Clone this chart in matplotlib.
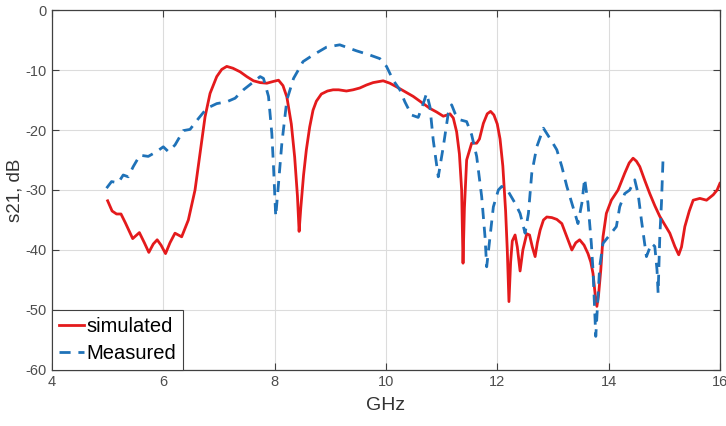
import matplotlib

matplotlib.use("Agg")

import matplotlib.pyplot as plt

plt.rcParams["font.family"] = ["Liberation Sans", "DejaVu Sans"]
plt.rcParams["axes.unicode_minus"] = False

# simulated S21 trace (GHz, dB)
sim_ghz = [
    5.00, 5.08, 5.16, 5.24, 5.32, 5.45, 5.57, 5.66, 5.74, 5.82, 5.89, 5.96,
    6.04, 6.12, 6.21, 6.33, 6.45, 6.57, 6.66, 6.75, 6.84, 6.96, 7.05, 7.14,
    7.25, 7.38, 7.50, 7.62, 7.74, 7.86, 7.98, 8.07, 8.15, 8.22, 8.30, 8.36,
    8.41, 8.44, 8.47, 8.52, 8.57, 8.63, 8.69, 8.75, 8.84, 8.95, 9.05, 9.15,
    9.29, 9.41, 9.53, 9.65, 9.77, 9.95, 10.07, 10.19, 10.34, 10.49, 10.64,
    10.79, 10.91, 11.03, 11.10, 11.15, 11.21, 11.27, 11.32, 11.36, 11.385,
    11.41, 11.45, 11.54, 11.63, 11.68, 11.75, 11.82, 11.88, 11.94, 12.00,
    12.05, 12.10, 12.15, 12.18, 12.21, 12.24, 12.27, 12.32, 12.36, 12.41,
    12.46, 12.53, 12.58, 12.63, 12.68, 12.72, 12.77, 12.83, 12.89, 12.98,
    13.07, 13.16, 13.25, 13.34, 13.41, 13.48, 13.56, 13.63, 13.68, 13.72,
    13.76, 13.79, 13.82, 13.86, 13.90, 13.96, 14.05, 14.17, 14.29, 14.37,
    14.44, 14.50, 14.56, 14.65, 14.74, 14.83, 14.92, 15.01, 15.10, 15.19,
    15.26, 15.31, 15.37, 15.45, 15.52, 15.64, 15.76, 15.88, 15.95, 16.00,
]
sim_db = [
    -31.8, -33.5, -34.0, -34.0, -35.5, -38.1, -37.1, -38.8, -40.4, -39.0, -38.3, -39.2,
    -40.6, -38.8, -37.2, -37.8, -35.0, -30.0, -23.9, -17.8, -13.9, -11.1, -9.9, -9.4,
    -9.7, -10.3, -11.1, -11.8, -12.1, -12.2, -11.9, -11.7, -12.6, -14.5, -19.0, -24.5,
    -31.0, -36.9, -33.0, -27.5, -23.3, -19.5, -16.7, -15.2, -14.0, -13.5, -13.3, -13.3,
    -13.5, -13.3, -13.0, -12.5, -12.1, -11.8, -12.2, -12.8, -13.6, -14.4, -15.4,
    -16.4, -17.0, -17.7, -17.5, -17.3, -18.0, -20.3, -24.0, -30.0, -42.2,
    -33.0, -25.0, -22.2, -22.2, -21.5, -18.9, -17.3, -16.9, -17.5, -19.0,
    -21.5, -26.0, -33.5, -40.0, -48.6, -42.0, -38.5, -37.5, -39.5, -43.5,
    -40.0, -37.3, -37.5, -39.5, -41.1, -38.8, -36.7, -35.0, -34.5, -34.6,
    -34.9, -35.6, -37.8, -40.0, -38.8, -38.3, -39.2, -40.6, -42.0, -43.9,
    -47.5, -49.4, -47.5, -43.3, -37.8, -33.9, -31.7, -30.0, -27.2, -25.5,
    -24.7, -25.2, -26.1, -28.4, -30.6, -32.6, -34.4, -35.8, -37.2, -39.4,
    -40.8, -39.5, -36.1, -33.5, -31.7, -31.4, -31.7, -30.8, -30.0, -28.9,
]

# measured S21 trace (GHz, dB)
meas_ghz = [
    4.98, 5.07, 5.19, 5.28, 5.37, 5.46, 5.58, 5.73, 5.88, 6.00, 6.09, 6.21,
    6.36, 6.48, 6.63, 6.78, 6.96, 7.14, 7.29, 7.44, 7.59, 7.74, 7.80, 7.89,
    7.95, 7.98, 8.02, 8.07, 8.13, 8.22, 8.34, 8.45, 8.51, 8.69, 8.93, 9.17,
    9.32, 9.47, 9.71, 9.89, 10.01, 10.13, 10.25, 10.34, 10.46, 10.58, 10.67,
    10.73, 10.79, 10.85, 10.94, 11.03, 11.12, 11.18, 11.24, 11.33, 11.45,
    11.54, 11.63, 11.72, 11.78, 11.81, 11.87, 11.93, 12.02, 12.08, 12.20,
    12.32, 12.41, 12.50, 12.56, 12.62, 12.71, 12.83, 12.98, 13.07, 13.16,
    13.25, 13.34, 13.45, 13.52, 13.57, 13.63, 13.69, 13.72, 13.75, 13.77,
    13.81, 13.84, 13.90, 14.02, 14.14, 14.20, 14.29, 14.38, 14.47, 14.53,
    14.59, 14.68, 14.77, 14.83, 14.87, 14.89, 14.92, 14.95, 14.98,
]
meas_db = [
    -29.7, -28.6, -28.8, -27.5, -27.8, -26.1, -24.2, -24.4, -23.6, -22.8, -23.6, -22.5,
    -20.1, -19.9, -18.1, -16.4, -15.6, -15.3, -14.7, -13.3, -12.2, -11.1, -11.4, -14.4,
    -20.6, -26.1, -34.4, -28.9, -22.2, -15.0, -11.4, -9.6, -8.6, -7.5, -6.2, -5.8,
    -6.3, -6.8, -7.5, -8.1, -9.4, -11.7, -13.3, -15.3, -17.5, -17.9, -15.6,
    -13.9, -16.1, -21.7, -27.8, -22.8, -17.2, -15.8, -17.2, -18.3, -18.6,
    -20.8, -24.4, -31.1, -37.8, -42.8, -37.8, -32.8, -30.0, -29.4, -30.3,
    -32.2, -33.9, -37.2, -33.9, -27.2, -22.8, -19.7, -21.9, -23.3, -26.1,
    -29.4, -32.2, -35.6, -32.2, -28.1, -32.2, -38.9, -43.3, -50.0, -54.4,
    -47.8, -42.8, -38.9, -37.5, -36.1, -32.8, -30.6, -30.0, -28.3, -30.6,
    -35.0, -41.1, -38.9, -39.4, -43.3, -47.2, -37.8, -32.2, -24.4,
]

x_ticks = [4, 6, 8, 10, 12, 14, 16]
y_ticks = [-60, -50, -40, -30, -20, -10, 0]

fig = plt.figure(figsize=(7.26, 4.26), dpi=100)
ax = fig.add_axes([0.0716, 0.1315, 0.92, 0.845])

ax.plot(sim_ghz, sim_db, color="#e41a1c", linewidth=2.0, label="simulated")
ax.plot(meas_ghz, meas_db, color="#1f72b8", linewidth=2.0, dashes=(4, 2.8), label="Measured")

ax.set_xlim(4, 16)
ax.set_ylim(-60, 0)
ax.set_xticks(x_ticks)
ax.set_yticks(y_ticks)
ax.grid(True, color="#dcdcdc", linewidth=0.8)
ax.set_axisbelow(True)
ax.tick_params(direction="in", top=True, right=True, length=5, width=0.8,
               colors="#404040", labelsize=10.5, labelcolor="#4d4d4d")
for spine in ax.spines.values():
    spine.set_color("#404040")
    spine.set_linewidth(0.9)

ax.set_xlabel("GHz", fontsize=14, color="#333333", labelpad=6)
ax.set_ylabel("s21, dB", fontsize=13.5, color="#333333", labelpad=2)

leg = ax.legend(loc="lower left", fontsize=14.5, fancybox=False, framealpha=1,
                edgecolor="#404040", handlelength=1.25, handletextpad=0.1,
                borderpad=0.35, labelspacing=0.4, borderaxespad=0)
leg.get_frame().set_linewidth(0.8)

fig.savefig("out.png", facecolor="white")
